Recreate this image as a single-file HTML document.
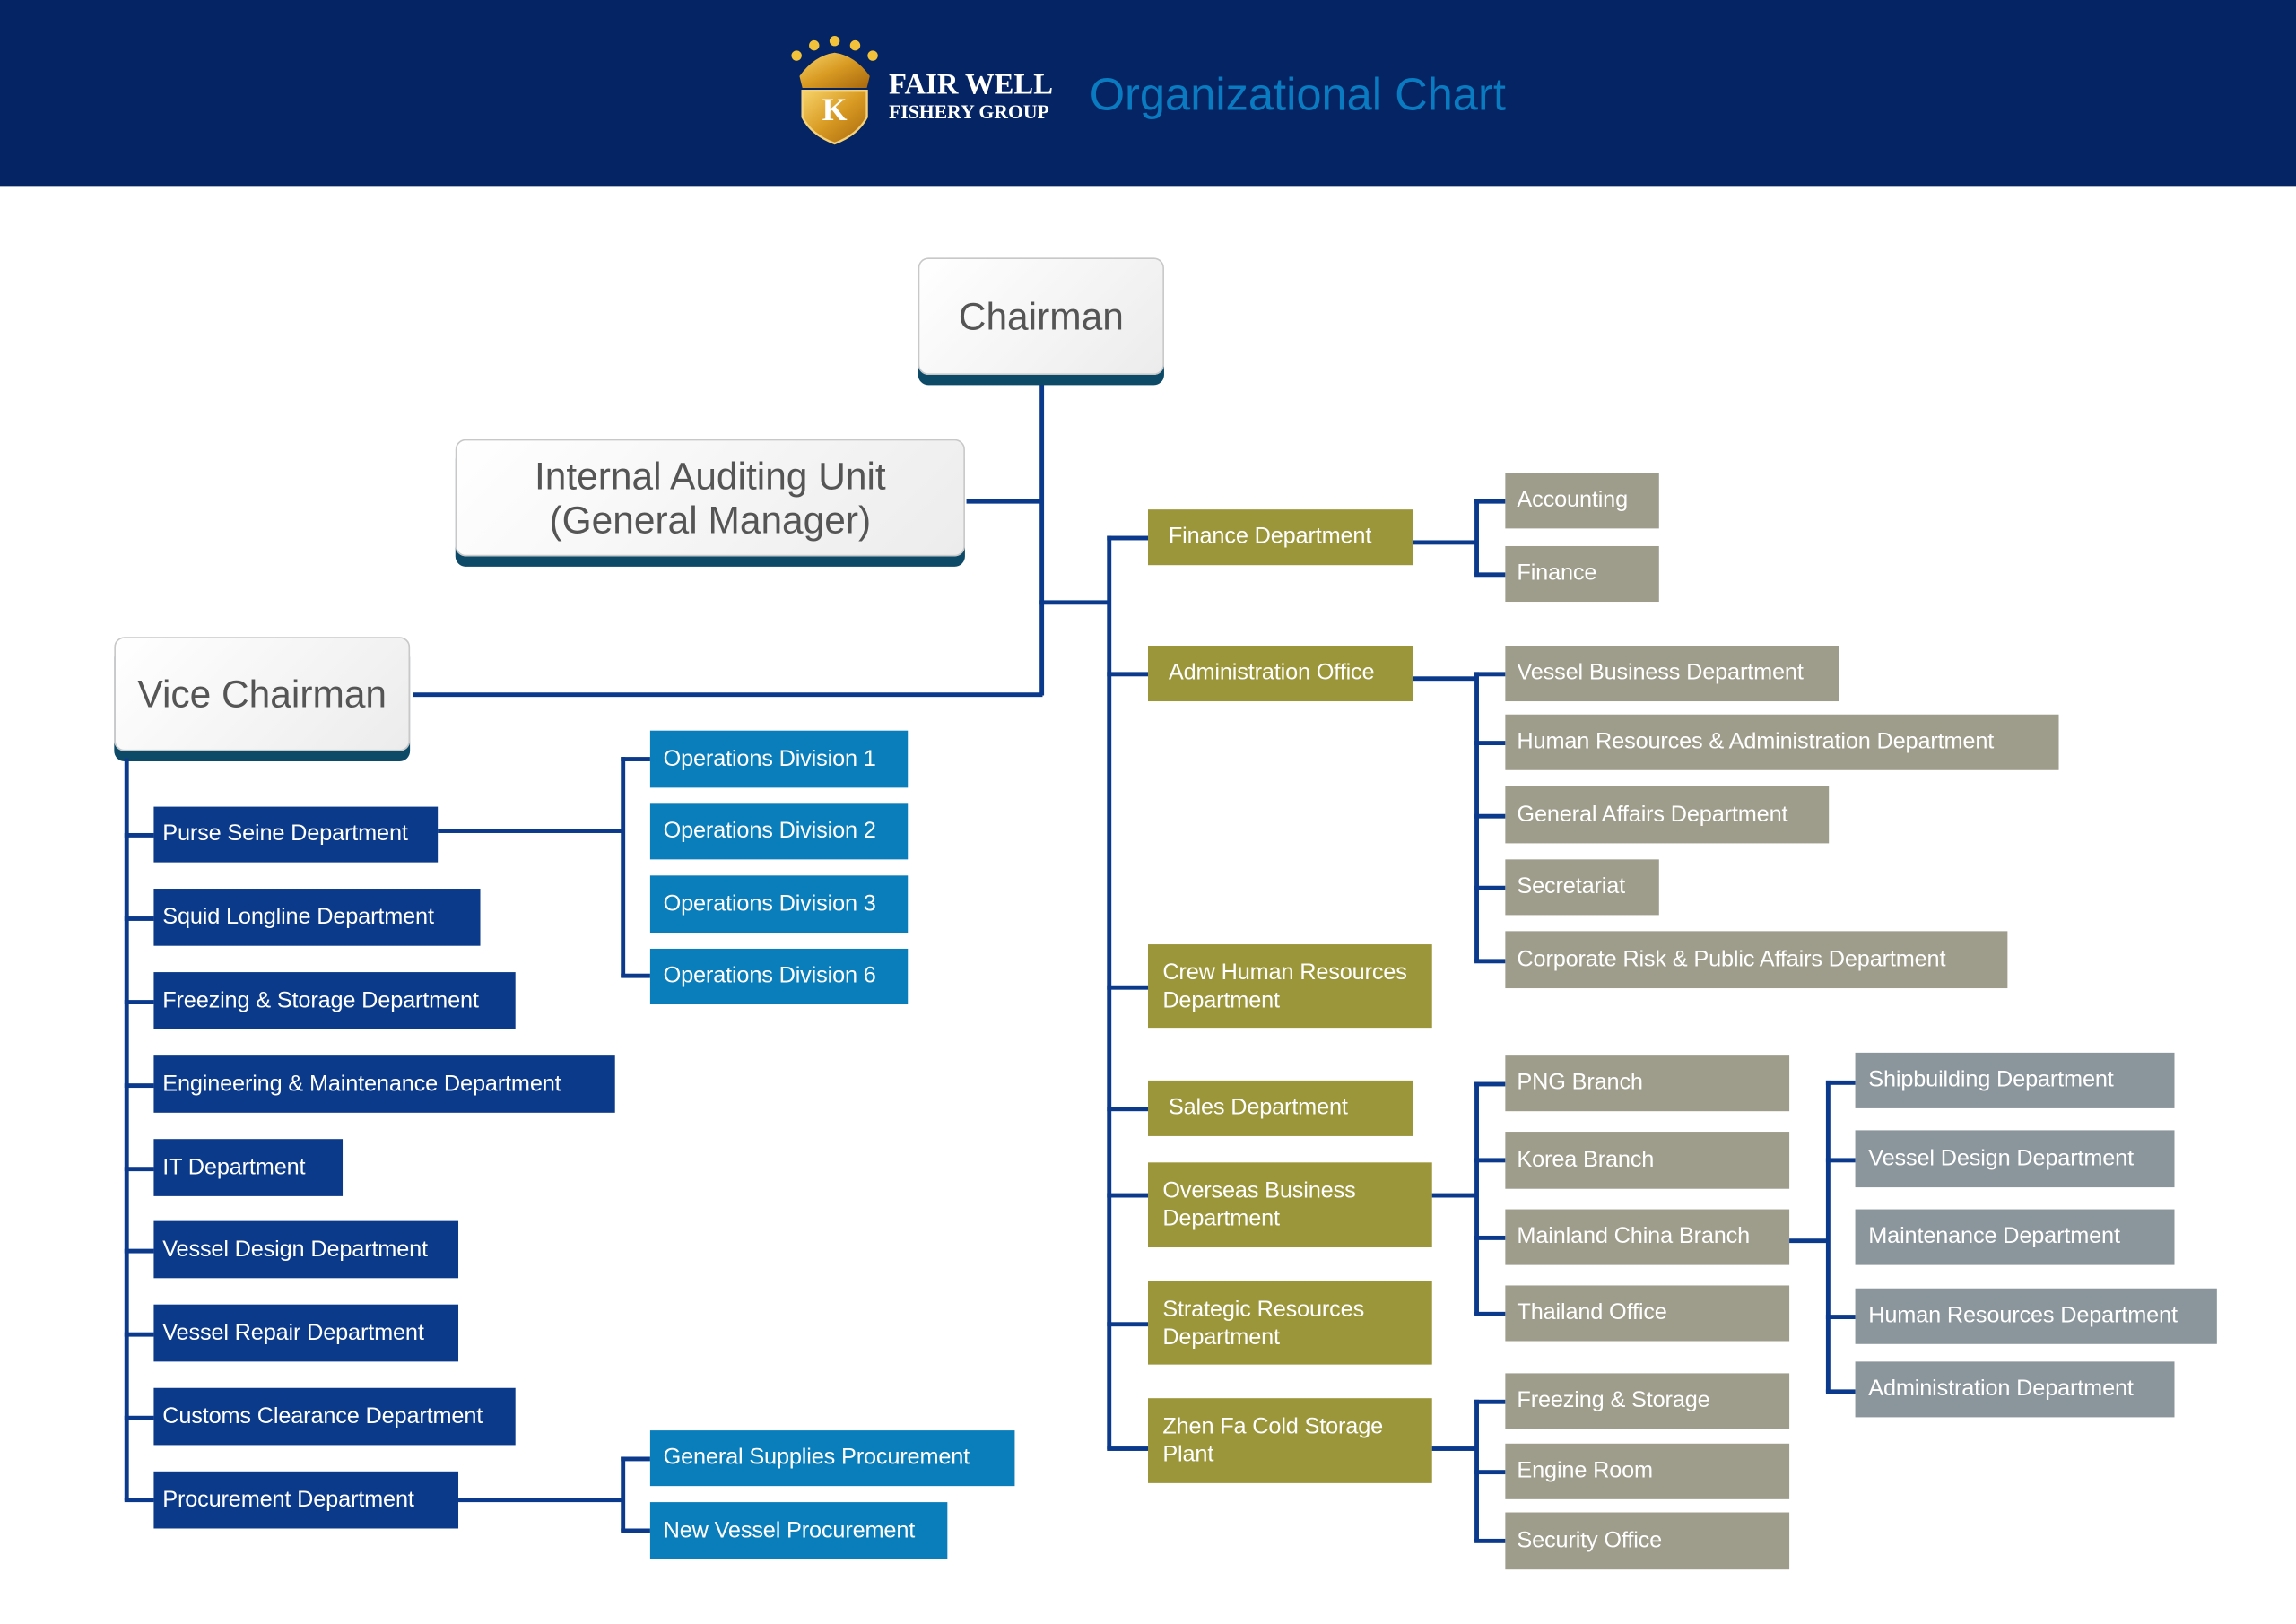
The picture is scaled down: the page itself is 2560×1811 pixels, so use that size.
<!DOCTYPE html>
<html><head><meta charset="utf-8"><style>
html,body{margin:0;padding:0;background:#fff;overflow:hidden}
#w{width:2560px;height:1811px;position:relative;overflow:hidden;background:#fff}
#s{position:absolute;left:0;top:0;width:1568px;height:1109px;transform:scale(1.63265);transform-origin:0 0;font-family:"Liberation Sans",sans-serif}
.b{position:absolute;color:#fff;font-size:15.5px;box-sizing:border-box;display:flex;align-items:center;white-space:nowrap;padding-left:6px;letter-spacing:-0.1px}
.n{background:#0b3a8a}
.c{background:#0a7dbb;padding-left:9px}
.o{background:#9b963a;padding-left:14px}
.o2{background:#9b963a;padding-left:10px;line-height:19px;white-space:normal}
.g{background:#9e9c8a;padding-left:8px}
.s{background:#8b969c;padding-left:9px}
.l{position:absolute;background:#0b3a8c}
.card{position:absolute;box-sizing:border-box;border:1.5px solid #c8c8c8;border-radius:7px;background:linear-gradient(135deg,#fff,#ececec);box-shadow:0 7px 0 #0d4a68;color:#555;font-size:26px;text-align:center;display:flex;align-items:center;justify-content:center;line-height:30px}
</style></head><body><div id="w"><div id="s">
<div style="position:absolute;left:0;top:0;width:1568px;height:127px;background:#042463"></div>
<svg style="position:absolute;left:536px;top:24px" width="68" height="76" viewBox="0 0 68 76">
<defs><linearGradient id="gd" x1="0" y1="0" x2="1" y2="1"><stop offset="0" stop-color="#f7d36a"/><stop offset=".5" stop-color="#d89a22"/><stop offset="1" stop-color="#a8670e"/></linearGradient></defs>
<g fill="#f2c23a"><circle cx="8" cy="14" r="3.5"/><circle cx="20" cy="7" r="3.5"/><circle cx="34" cy="4" r="3.5"/><circle cx="48" cy="7" r="3.5"/><circle cx="60" cy="14" r="3.5"/></g>
<path d="M10 28 Q20 14 34 12 Q48 14 58 28 L56 36 L12 36 Z" fill="url(#gd)"/>
<path d="M12 38 L56 38 L56 56 Q50 68 34 74 Q18 68 12 56 Z" fill="url(#gd)" stroke="#f5d27a" stroke-width="1.5"/>
<text x="34" y="58" font-family="Liberation Serif,serif" font-size="22" fill="#fff" text-anchor="middle" font-weight="bold">K</text>
</svg>
<div style="position:absolute;left:607px;top:47px;color:#fff;font-family:'Liberation Serif',serif;font-weight:bold;font-size:20px;line-height:22px">FAIR WELL</div>
<div style="position:absolute;left:607px;top:69px;color:#fff;font-family:'Liberation Serif',serif;font-weight:bold;font-size:13.3px;line-height:15px">FISHERY GROUP</div>
<div style="position:absolute;left:744px;top:46px;color:#0a7bc0;font-size:31px;line-height:38px">Organizational Chart</div>

<div class="l" style="left:710px;top:262px;width:2.5px;height:213px"></div>
<div class="l" style="left:660px;top:341px;width:51px;height:2.5px"></div>
<div class="l" style="left:282px;top:473px;width:430px;height:2.5px"></div>
<div class="l" style="left:710px;top:410px;width:48px;height:2.5px"></div>
<div class="l" style="left:756px;top:366px;width:2.5px;height:624px"></div>
<div class="l" style="left:756px;top:366px;width:28px;height:2.5px"></div>
<div class="l" style="left:756px;top:459px;width:28px;height:2.5px"></div>
<div class="l" style="left:756px;top:673px;width:28px;height:2.5px"></div>
<div class="l" style="left:756px;top:756px;width:28px;height:2.5px"></div>
<div class="l" style="left:756px;top:815px;width:28px;height:2.5px"></div>
<div class="l" style="left:756px;top:903px;width:28px;height:2.5px"></div>
<div class="l" style="left:756px;top:988px;width:28px;height:2.5px"></div>

<div class="card" style="left:627px;top:176px;width:168px;height:80px">Chairman</div>
<div class="card" style="left:311px;top:300px;width:348px;height:80px">Internal Auditing Unit<br>(General Manager)</div>
<div class="card" style="left:78px;top:435px;width:202px;height:78px">Vice Chairman</div>

<div class="b o" style="left:784px;top:348px;width:181px;height:38px">Finance Department</div>
<div class="b o" style="left:784px;top:441px;width:181px;height:38px">Administration Office</div>
<div class="b o2" style="left:784px;top:645px;width:194px;height:57px">Crew Human Resources Department</div>
<div class="b o" style="left:784px;top:738px;width:181px;height:38px">Sales Department</div>
<div class="b o2" style="left:784px;top:794px;width:194px;height:58px">Overseas Business Department</div>
<div class="b o2" style="left:784px;top:875px;width:194px;height:57px">Strategic Resources Department</div>
<div class="b o2" style="left:784px;top:955px;width:194px;height:58px">Zhen Fa Cold Storage Plant</div>

<!-- finance group -->
<div class="l" style="left:965px;top:369px;width:44px;height:2.5px"></div>
<div class="l" style="left:1007px;top:341px;width:2.5px;height:52px"></div>
<div class="l" style="left:1007px;top:341px;width:21px;height:2.5px"></div>
<div class="l" style="left:1007px;top:391px;width:21px;height:2.5px"></div>
<div class="b g" style="left:1028px;top:323px;width:105px;height:38px">Accounting</div>
<div class="b g" style="left:1028px;top:373px;width:105px;height:38px">Finance</div>
<!-- admin group -->
<div class="l" style="left:965px;top:462px;width:44px;height:2.5px"></div>
<div class="l" style="left:1007px;top:459px;width:2.5px;height:198px"></div>
<div class="l" style="left:1007px;top:459px;width:21px;height:2.5px"></div>
<div class="l" style="left:1007px;top:506px;width:21px;height:2.5px"></div>
<div class="l" style="left:1007px;top:556px;width:21px;height:2.5px"></div>
<div class="l" style="left:1007px;top:605px;width:21px;height:2.5px"></div>
<div class="l" style="left:1007px;top:655px;width:21px;height:2.5px"></div>
<div class="b g" style="left:1028px;top:441px;width:228px;height:38px">Vessel Business Department</div>
<div class="b g" style="left:1028px;top:488px;width:378px;height:38px">Human Resources &amp; Administration Department</div>
<div class="b g" style="left:1028px;top:537px;width:221px;height:39px">General Affairs Department</div>
<div class="b g" style="left:1028px;top:587px;width:105px;height:38px">Secretariat</div>
<div class="b g" style="left:1028px;top:636px;width:343px;height:39px">Corporate Risk &amp; Public Affairs Department</div>
<!-- overseas group -->
<div class="l" style="left:978px;top:815px;width:31px;height:2.5px"></div>
<div class="l" style="left:1007px;top:739px;width:2.5px;height:159px"></div>
<div class="l" style="left:1007px;top:739px;width:21px;height:2.5px"></div>
<div class="l" style="left:1007px;top:791px;width:21px;height:2.5px"></div>
<div class="l" style="left:1007px;top:844px;width:21px;height:2.5px"></div>
<div class="l" style="left:1007px;top:896px;width:21px;height:2.5px"></div>
<div class="b g" style="left:1028px;top:721px;width:194px;height:38px">PNG Branch</div>
<div class="b g" style="left:1028px;top:773px;width:194px;height:39px">Korea Branch</div>
<div class="b g" style="left:1028px;top:826px;width:194px;height:38px">Mainland China Branch</div>
<div class="b g" style="left:1028px;top:878px;width:194px;height:38px">Thailand Office</div>
<!-- mainland sub -->
<div class="l" style="left:1222px;top:846px;width:27px;height:2.5px"></div>
<div class="l" style="left:1247px;top:738px;width:2.5px;height:213px"></div>
<div class="l" style="left:1247px;top:738px;width:20px;height:2.5px"></div>
<div class="l" style="left:1247px;top:791px;width:20px;height:2.5px"></div>
<div class="l" style="left:1247px;top:898px;width:20px;height:2.5px"></div>
<div class="l" style="left:1247px;top:949px;width:20px;height:2.5px"></div>
<div class="b s" style="left:1267px;top:719px;width:218px;height:38px">Shipbuilding Department</div>
<div class="b s" style="left:1267px;top:772px;width:218px;height:39px">Vessel Design Department</div>
<div class="b s" style="left:1267px;top:826px;width:218px;height:38px">Maintenance Department</div>
<div class="b s" style="left:1267px;top:880px;width:247px;height:38px">Human Resources Department</div>
<div class="b s" style="left:1267px;top:930px;width:218px;height:38px">Administration Department</div>
<!-- zhen fa group -->
<div class="l" style="left:978px;top:988px;width:31px;height:2.5px"></div>
<div class="l" style="left:1007px;top:956px;width:2.5px;height:97px"></div>
<div class="l" style="left:1007px;top:956px;width:21px;height:2.5px"></div>
<div class="l" style="left:1007px;top:1004px;width:21px;height:2.5px"></div>
<div class="l" style="left:1007px;top:1051px;width:21px;height:2.5px"></div>
<div class="b g" style="left:1028px;top:938px;width:194px;height:38px">Freezing &amp; Storage</div>
<div class="b g" style="left:1028px;top:986px;width:194px;height:38px">Engine Room</div>
<div class="b g" style="left:1028px;top:1033px;width:194px;height:39px">Security Office</div>

<!-- left -->
<div class="l" style="left:85px;top:518px;width:2.5px;height:507px"></div>
<div class="l" style="left:85px;top:569px;width:20px;height:2.5px"></div>
<div class="l" style="left:85px;top:626px;width:20px;height:2.5px"></div>
<div class="l" style="left:85px;top:683px;width:20px;height:2.5px"></div>
<div class="l" style="left:85px;top:740px;width:20px;height:2.5px"></div>
<div class="l" style="left:85px;top:797px;width:20px;height:2.5px"></div>
<div class="l" style="left:85px;top:853px;width:20px;height:2.5px"></div>
<div class="l" style="left:85px;top:910px;width:20px;height:2.5px"></div>
<div class="l" style="left:85px;top:967px;width:20px;height:2.5px"></div>
<div class="l" style="left:85px;top:1023px;width:20px;height:2.5px"></div>
<div class="b n" style="left:105px;top:551px;width:194px;height:38px">Purse Seine Department</div>
<div class="b n" style="left:105px;top:607px;width:223px;height:39px">Squid Longline Department</div>
<div class="b n" style="left:105px;top:664px;width:247px;height:39px">Freezing &amp; Storage Department</div>
<div class="b n" style="left:105px;top:721px;width:315px;height:39px">Engineering &amp; Maintenance Department</div>
<div class="b n" style="left:105px;top:778px;width:129px;height:39px">IT Department</div>
<div class="b n" style="left:105px;top:834px;width:208px;height:39px">Vessel Design Department</div>
<div class="b n" style="left:105px;top:891px;width:208px;height:39px">Vessel Repair Department</div>
<div class="b n" style="left:105px;top:948px;width:247px;height:39px">Customs Clearance Department</div>
<div class="b n" style="left:105px;top:1005px;width:208px;height:39px">Procurement Department</div>

<div class="l" style="left:299px;top:566px;width:127px;height:2.5px"></div>
<div class="l" style="left:424px;top:517px;width:2.5px;height:150px"></div>
<div class="l" style="left:424px;top:517px;width:20px;height:2.5px"></div>
<div class="l" style="left:424px;top:665px;width:20px;height:2.5px"></div>
<div class="b c" style="left:444px;top:499px;width:176px;height:39px">Operations Division 1</div>
<div class="b c" style="left:444px;top:549px;width:176px;height:38px">Operations Division 2</div>
<div class="b c" style="left:444px;top:598px;width:176px;height:39px">Operations Division 3</div>
<div class="b c" style="left:444px;top:648px;width:176px;height:38px">Operations Division 6</div>

<div class="l" style="left:313px;top:1023px;width:113px;height:2.5px"></div>
<div class="l" style="left:424px;top:995px;width:2.5px;height:51px"></div>
<div class="l" style="left:424px;top:995px;width:20px;height:2.5px"></div>
<div class="l" style="left:424px;top:1044px;width:20px;height:2.5px"></div>
<div class="b c" style="left:444px;top:977px;width:249px;height:38px">General Supplies Procurement</div>
<div class="b c" style="left:444px;top:1026px;width:203px;height:39px">New Vessel Procurement</div>
</div></div></body></html>
